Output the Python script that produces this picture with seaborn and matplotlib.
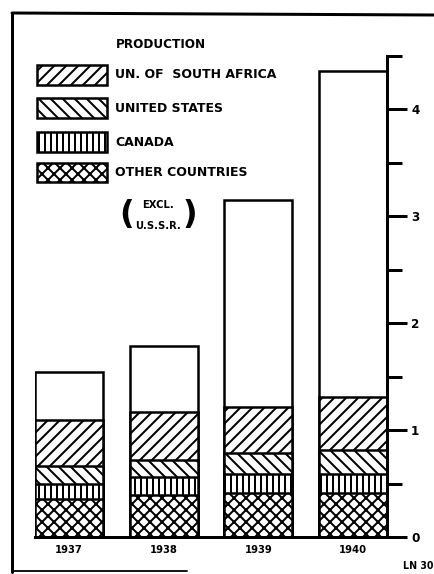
import numpy as np
import matplotlib
matplotlib.use("Agg")
import matplotlib.pyplot as plt
from matplotlib.patches import Rectangle
from matplotlib.lines import Line2D
import seaborn as sns

# ---------------- data (billions) ----------------
years = ["1937", "1938", "1939", "1940"]
total_bar = [1.54, 1.79, 3.15, 4.36]          # open (white) bar, full height
south_africa = [0.43, 0.45, 0.43, 0.50]
united_states = [0.16, 0.16, 0.20, 0.22]
canada = [0.14, 0.17, 0.18, 0.18]
other_countries = [0.36, 0.39, 0.41, 0.41]

series_labels = ["UN. OF  SOUTH AFRICA", "UNITED STATES", "CANADA", "OTHER COUNTRIES"]
y_ticks = [0, 1, 2, 3, 4]
y_minor = [0.5, 1.5, 2.5, 3.5, 4.5]

# ---------------- style ----------------
sns.set_style("white")
plt.rcParams["font.family"] = ["DejaVu Sans"]
plt.rcParams["hatch.linewidth"] = 2.0
plt.rcParams["hatch.color"] = "black"
for k in ["text.color", "axes.labelcolor", "xtick.color", "ytick.color"]:
    plt.rcParams[k] = "black"

W, H = 434, 574
fig = plt.figure(figsize=(W / 72, H / 72), dpi=72)
fig.patch.set_facecolor("white")

def fx(x):
    return x / W

def fy(y):
    return 1 - y / H

ax = fig.add_axes([fx(35), fy(537), (387 - 35) / W, (537 - 56) / H])
ax.set_facecolor("none")

# cumulative stacks, drawn tallest first so lower layers cover upper ones
c_other = np.array(other_countries)
c_canada = c_other + np.array(canada)
c_us = c_canada + np.array(united_states)
c_sa = c_us + np.array(south_africa)

layers = [
    (total_bar, ""),
    (c_sa, "//"),
    (c_us, "\\\\"),
    (c_canada, "||"),
    (c_other, "xx"),
]
for vals, hatch in layers:
    sns.barplot(x=years, y=list(vals), order=years, color="white", saturation=1,
                edgecolor="black", linewidth=2.5, hatch=hatch, width=0.72,
                ax=ax, errorbar=None)

ax.set_xlim(-0.36, 3.36)
ax.set_ylim(0, 4.5)
ax.set_xlabel("")
ax.set_ylabel("")

for s in ["left", "top"]:
    ax.spines[s].set_visible(False)
for s in ["right", "bottom"]:
    ax.spines[s].set_visible(True)
    ax.spines[s].set_linewidth(3)
    ax.spines[s].set_color("black")

ax.yaxis.tick_right()
ax.set_yticks(y_ticks)
ax.set_yticks(y_minor, minor=True)
ax.set_yticklabels([str(t) for t in y_ticks], fontsize=12, fontweight="bold")
ax.tick_params(axis="y", which="major", direction="out", length=20, width=3,
               pad=4, colors="black", right=True, left=False)
ax.tick_params(axis="y", which="minor", direction="out", length=15, width=3,
               right=True, left=False, colors="black")
ax.tick_params(axis="x", length=0, pad=8)
ax.set_xticklabels(years, fontsize=10, fontweight="bold")

# ---------------- legend (hand-built, as in the original) ----------------
fig.text(fx(116), fy(45), "PRODUCTION", fontsize=12, fontweight="bold",
         ha="left", va="center")

legend_rows = [(65, 85, "//"), (98, 118, "\\\\"), (132, 152, "||"), (163, 182, "xx")]
for (y0, y1, hatch), lab in zip(legend_rows, series_labels):
    r = Rectangle((fx(37), fy(y1)), (107 - 37) / W, (y1 - y0) / H,
                  transform=fig.transFigure, facecolor="white", edgecolor="black",
                  linewidth=2.5, hatch=hatch)
    fig.add_artist(r)
    fig.text(fx(115), fy((y0 + y1) / 2), lab, fontsize=12.5, fontweight="bold",
             ha="left", va="center")

fig.text(fx(127), fy(214), "(", fontsize=32, fontweight="bold", ha="center", va="center")
fig.text(fx(190), fy(214), ")", fontsize=32, fontweight="bold", ha="center", va="center")
fig.text(fx(158), fy(205), "EXCL.", fontsize=10, fontweight="bold", ha="center", va="center")
fig.text(fx(158), fy(226), "U.S.S.R.", fontsize=10, fontweight="bold", ha="center", va="center")

fig.text(fx(418), fy(566), "LN 30", fontsize=9.5, fontweight="bold", ha="center", va="center")

# ---------------- frame ----------------
fig.add_artist(Line2D([fx(12), fx(434)], [fy(13), fy(15)], transform=fig.transFigure,
                      color="black", linewidth=3))
fig.add_artist(Line2D([fx(12), fx(12)], [fy(13), fy(572)], transform=fig.transFigure,
                      color="black", linewidth=3))
fig.add_artist(Line2D([fx(12), fx(187)], [fy(571), fy(571)], transform=fig.transFigure,
                      color="black", linewidth=1.8))

fig.savefig("out.png", dpi=72, facecolor="white")
